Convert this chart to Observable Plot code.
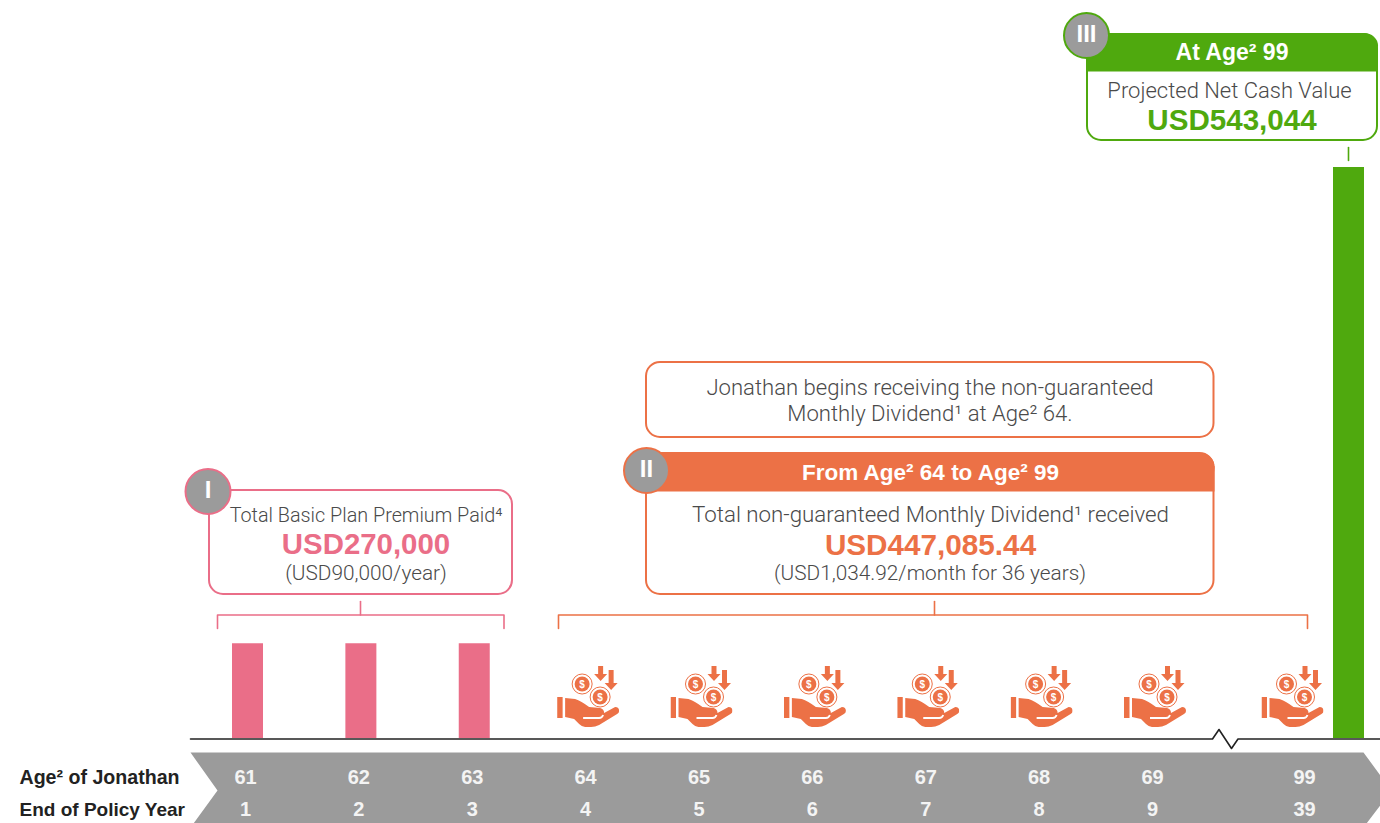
<!DOCTYPE html>
<html><head><meta charset="utf-8">
<script src="https://cdn.jsdelivr.net/npm/d3@7"></script>
<script src="https://cdn.jsdelivr.net/npm/@observablehq/plot@0.6"></script>
<style>html,body{margin:0;padding:0;background:#fff;overflow:hidden}svg{display:block}</style>
</head><body><div id="chart"></div>
<script>
// ---- data ----
const ages = [61,62,63,64,65,66,67,68,69,99];
const policyYears = [1,2,3,4,5,6,7,8,9,39];
const premiumAges = [61,62,63];
const premiumPaid = [90000,90000,90000];
const dividendAges = [64,65,66,67,68,69,99];
const cashValueAge = [99];
const cashValue = [543044];
const rowLabels = ["Age² of Jonathan","End of Policy Year"];
const badges = ["I","II","III"];
const boxTexts = [
 "Total Basic Plan Premium Paid⁴","USD270,000","(USD90,000/year)",
 "Jonathan begins receiving the non-guaranteed","Monthly Dividend¹ at Age² 64.",
 "From Age² 64 to Age² 99","Total non-guaranteed Monthly Dividend¹ received","USD447,085.44","(USD1,034.92/month for 36 years)",
 "At Age² 99","Projected Net Cash Value","USD543,044"];

// ---- styles and layout ----
const PINK="#ea6e88", ORANGE="#ec7146", GREEN="#4fa90e", GREY="#9b9b9b", INK="#4a4a4a";
const FONT="'Liberation Sans',Arial,sans-serif";
const LIGHT="Roboto,'Liberation Sans',sans-serif";
const px = k => ({value:d=>d[k], scale:null});
const at = v => ({value:()=>v, scale:null});

const iconSvg = `<svg xmlns="http://www.w3.org/2000/svg" viewBox="0 0 62 62" width="62" height="62">
<g fill="${ORANGE}">
<rect x="0" y="31" width="5.5" height="21"/>
<path d="M8 32 L18 33 Q24 35 32 41 L43 42 Q47 43 47 47 L58 41 Q62 41 62 45 Q62 47 60 48 L42 59 Q38 61 34 61 L28 61 Q25 61 22 58 L17 53 L8 51 Z"/>
<path d="M41 0 h5 v8 h4 l-6.5 7 l-6.5 -7 h4 z"/>
<path d="M51.5 4 h5 v13 h4 l-6.5 7 l-6.5 -7 h4 z"/>
<circle cx="25" cy="18" r="7.5"/><circle cx="43" cy="31" r="7.5"/>
</g>
<g fill="none" stroke="${ORANGE}" stroke-width="1"><circle cx="25" cy="18" r="10"/><circle cx="43" cy="31" r="10"/></g>
<path d="M26 52 H42 Q45 52 46 49" stroke="#fff" stroke-width="1.8" fill="none"/>
<g fill="#fff" font-family="Liberation Sans" font-weight="700" font-size="10" text-anchor="middle"><text x="25" y="21.5">$</text><text x="43" y="34.5">$</text></g>
</svg>`;
const iconSrc = "data:image/svg+xml;charset=utf-8," + encodeURIComponent(iconSvg);

const textLayout = [
 [365.5,515.5,19.8,300,INK],[365.5,544.5,29.4,700,PINK],[365.5,573,20.8,300,INK],
 [929.5,387,22.1,300,INK],[929.5,413,22.1,300,INK],
 [930,472.5,22.5,700,"#fff"],[930,514.5,22.3,300,INK],[930,544.5,29.7,700,ORANGE],[929.5,573,20.8,300,INK],
 [1231.5,52.5,23,700,"#fff"],[1229,90.5,22,300,INK],[1231.5,120.5,29.6,700,GREEN]];
const boxText = boxTexts.map((text,i)=>({text,x:textLayout[i][0],y:textLayout[i][1],size:textLayout[i][2],weight:textLayout[i][3],color:textLayout[i][4]}));

const pts = a => a.map(([x,y])=>({x,y}));
const poly = (a,o) => Plot.line(pts(a),{x:px("x"),y:px("y"),...o});
const box = (x1,y1,x2,y2,o) => Plot.rect([0],{x1:at(x1),x2:at(x2),y1:at(y1),y2:at(y2),...o});
const frame = (x1,y1,x2,y2,c) => box(x1,y1,x2,y2,{fill:"#fff",stroke:c,strokeWidth:2,rx:14,inset:0});
const badge = (x,y,c,label) => [
  Plot.dot([0],{x:at(x),y:at(y),r:22.5,fill:GREY,stroke:c,strokeWidth:2}),
  Plot.text([label],{x:at(x),y:at(y-1),text:d=>d,fill:"#fff",fontSize:24,fontWeight:700,fontFamily:FONT})];
const bracket = (x1,x2,stem,c) => [
  poly([[x1,628],[x1,614.5],[x2,614.5],[x2,628]],{stroke:c,strokeWidth:1.6}),
  poly([[stem,601],[stem,614.5]],{stroke:c,strokeWidth:1.6})];

const premiumRows = premiumAges.map((age,i)=>({age,value:premiumPaid[i]}));
const cashRows = cashValueAge.map((age,i)=>({age,value:cashValue[i]}));
const ageRows = ages.map((age,i)=>({age,year:policyYears[i]}));
const tickStyle = {fill:"#f4f4f4",fontSize:20,fontWeight:700};

const chart = Plot.plot({
  width:1380,height:823,margin:0,
  style:{fontFamily:FONT,background:"#fff",overflow:"hidden"},
  x:{type:"linear",domain:[61,69,99],range:[247,1154,1291.5],axis:null},
  y:{type:"linear",domain:[0,543044],range:[738,167],axis:null},
  marks:[
    poly([[190,752],[1363,752],[1391,790],[1366,823],[193,823],[217,790]],{fill:GREY,stroke:"none"}),
    Plot.ruleX(premiumRows,{x:"age",y1:0,y2:"value",stroke:PINK,strokeWidth:31}),
    Plot.ruleX(cashRows,{x:"age",y1:0,y2:"value",stroke:GREEN,strokeWidth:31,dx:56.5}),
    poly([[190,738.5],[1212,738.5],[1218.5,729],[1231,748],[1237.5,738.5],[1380,738.5]],{stroke:"#222",strokeWidth:1.6}),
    Plot.image(dividendAges,{x:d=>d,y:at(696.5),src:()=>iconSrc,width:62,height:62,dx:0.5}),
    Plot.text(ageRows,{filter:d=>d.age<99,x:"age",y:at(777),text:d=>String(d.age),dx:-2,...tickStyle}),
    Plot.text(ageRows,{filter:d=>d.age<99,x:"age",y:at(809.5),text:d=>String(d.year),dx:-2,...tickStyle}),
    Plot.text(ageRows,{filter:d=>d.age==99,x:"age",y:at(777),text:d=>String(d.age),dx:12.5,...tickStyle}),
    Plot.text(ageRows,{filter:d=>d.age==99,x:"age",y:at(809.5),text:d=>String(d.year),dx:12.5,...tickStyle}),
    Plot.text([rowLabels[0]],{x:at(19),y:at(777.5),text:d=>d,textAnchor:"start",fill:"#222",fontSize:19.6,fontWeight:700}),
    Plot.text([rowLabels[1]],{x:at(19),y:at(809.5),text:d=>d,textAnchor:"start",fill:"#222",fontSize:19,fontWeight:700}),
    ...bracket(217,503.5,360,PINK),
    ...bracket(558,1307,934,ORANGE),
    poly([[1348,147],[1348,160]],{stroke:GREEN,strokeWidth:1.6}),
    frame(209,490,512,594,PINK),
    frame(646,362,1213.5,437,ORANGE),
    frame(646,453,1213.5,594,ORANGE),
    box(645,453,1214.5,482,{fill:ORANGE,rx:14}),
    box(645,466,1214.5,491.5,{fill:ORANGE}),
    frame(1087,34,1377,140,GREEN),
    box(1086,33,1378,58,{fill:GREEN,rx:14}),
    box(1086,50,1378,71.5,{fill:GREEN}),
    ...badge(207.5,491,PINK,badges[0]),
    ...badge(646,470,ORANGE,badges[1]),
    ...badge(1086,35,GREEN,badges[2]),
    Plot.text(boxText,{filter:d=>d.weight==300,x:px("x"),y:px("y"),text:"text",fill:d=>d.color,fontSize:d=>d.size,fontWeight:300,fontFamily:LIGHT}),
    Plot.text(boxText,{filter:d=>d.weight==700,x:px("x"),y:px("y"),text:"text",fill:d=>d.color,fontSize:d=>d.size,fontWeight:700})
  ]
});
document.getElementById("chart").append(chart);
</script></body></html>
